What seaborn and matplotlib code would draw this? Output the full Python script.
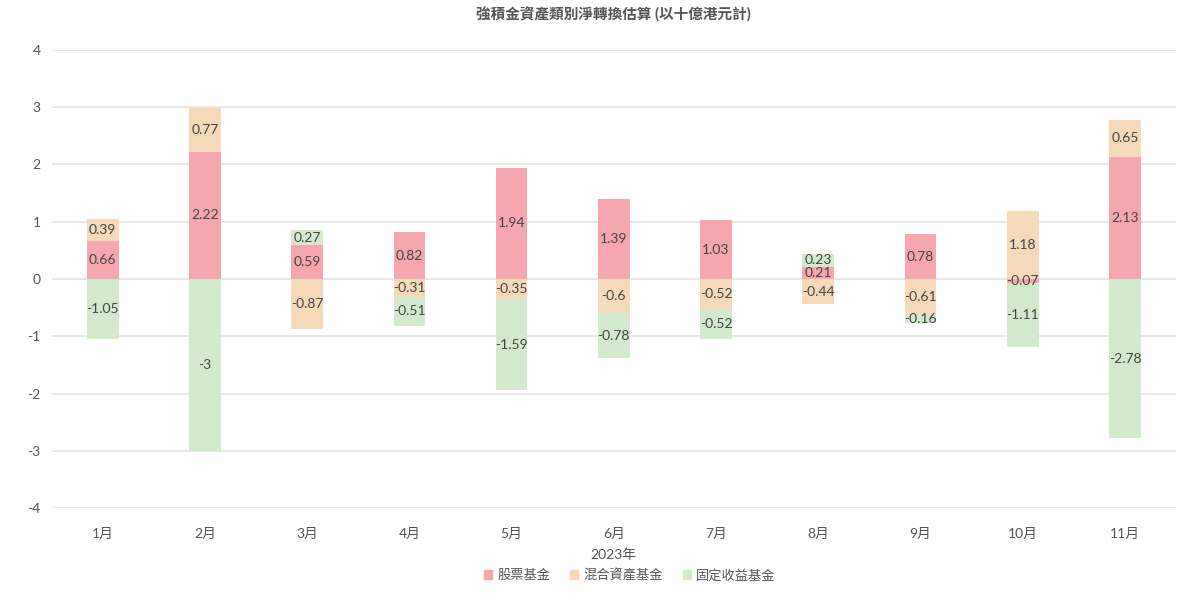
""" MPF net switching by asset class, 2023. """
import numpy as np
import pandas as pd
import seaborn as sns
import matplotlib.pyplot as plt
from matplotlib.patches import Patch

months = ["1月", "2月", "3月", "4月", "5月", "6月", "7月", "8月", "9月", "10月", "11月"]
series_names = ["股票基金", "混合資產基金", "固定收益基金"]
equity = [0.66, 2.22, 0.59, 0.82, 1.94, 1.39, 1.03, 0.21, 0.78, -0.07, 2.13]
mixed = [0.39, 0.77, -0.87, -0.31, -0.35, -0.6, -0.52, -0.44, -0.61, 1.18, 0.65]
fixed = [-1.05, -3, 0.27, -0.51, -1.59, -0.78, -0.52, 0.23, -0.16, -1.11, -2.78]
colors = ["#F5A6AE", "#F5D9B9", "#D3E9CB"]

sns.set_style("white")
plt.rcParams['font.family'] = ['Lato', 'Noto Sans CJK TC', 'DejaVu Sans']
plt.rcParams['axes.unicode_minus'] = False
text_col = "#555555"

values = np.array([equity, mixed, fixed])
pos = np.cumsum(np.clip(values, 0, None), axis=0)
neg = np.cumsum(np.clip(values, None, 0), axis=0)

fig, ax = plt.subplots(figsize=(12, 6.16), dpi=100)
fig.subplots_adjust(left=0.043, right=0.98, top=0.919, bottom=0.175)

# draw outer cumulative bars first, inner ones on top -> stacked look
for i in reversed(range(3)):
    for cum in (pos, neg):
        df = pd.DataFrame({"month": months, "val": cum[i]})
        sns.barplot(data=df, x="month", y="val", order=months, color=colors[i],
                    width=0.31, saturation=1, linewidth=0, ax=ax, zorder=2)

# segment labels
for i in range(3):
    for j, v in enumerate(values[i]):
        if v >= 0:
            base = pos[i][j] - v
        else:
            base = neg[i][j] - v
        ax.text(j, base + v / 2, f"{v:g}", ha="center", va="center",
                fontsize=10, color="#444444", zorder=5)

ax.set_ylim(-4, 4)
ax.set_xlim(-0.5, 10.5)
ax.set_yticks(range(-4, 5))
ax.grid(axis="y", color="#e3e3e3", linewidth=1.2, zorder=0)
ax.set_axisbelow(True)
sns.despine(ax=ax, left=True, bottom=True)
ax.tick_params(axis="both", length=0, labelsize=10, colors=text_col)
ax.tick_params(axis="x", pad=14)
ax.tick_params(axis="y", pad=8)
ax.set_ylabel("")
ax.set_xlabel("2023年", fontsize=10, color=text_col, labelpad=6)
ax.set_title("強積金資產類別淨轉換估算 (以十億港元計)", fontsize=10.5,
             color=text_col, fontweight="bold", pad=22)

handles = [Patch(color=c, label=n) for c, n in zip(colors, series_names)]
fig.legend(handles=handles, loc="center", bbox_to_anchor=(0.525, 0.067), ncol=3,
           frameon=False, fontsize=9.5, handlelength=0.6, handleheight=0.6,
           handletextpad=0.4, columnspacing=1.5, labelcolor=text_col)

fig.savefig("out.png", dpi=100)
